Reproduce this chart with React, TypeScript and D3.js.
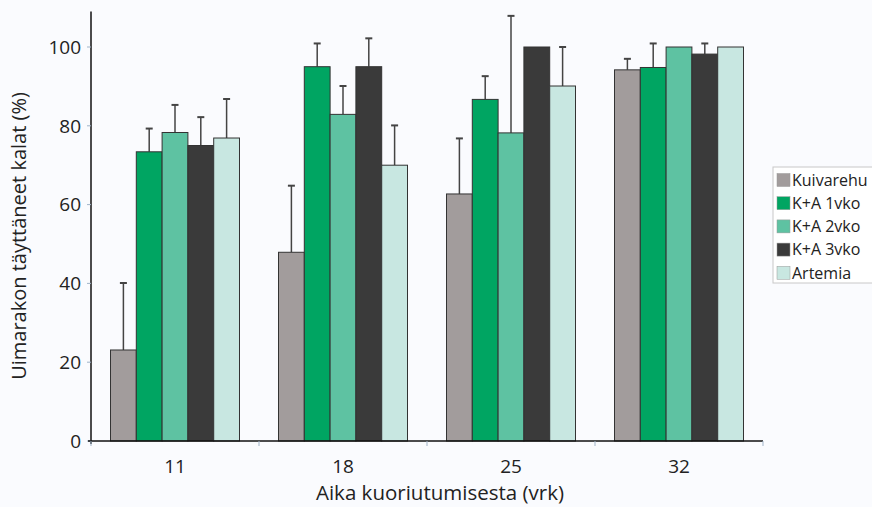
import React from "react";
import * as d3 from "d3";

const categories = ["11", "18", "25", "32"];
const series = ["Kuivarehu", "K+A 1vko", "K+A 2vko", "K+A 3vko", "Artemia"];
const colors = ["#a29c9c", "#00a562", "#5ec2a2", "#3a3a3a", "#c8e7e1"];
// values[series][category]
const values = [
  [23.1, 47.9, 62.7, 94.2],
  [73.4, 95.0, 86.7, 94.8],
  [78.3, 82.9, 78.2, 100],
  [75.0, 95.0, 100, 98.2],
  [76.9, 70.0, 90.1, 100],
];
// upper error bar ends (null = none)
const errTop = [
  [40.1, 64.8, 76.8, 97.0],
  [79.3, 100.9, 92.6, 100.9],
  [85.3, 90.1, 107.9, null],
  [82.2, 102.2, null, 100.9],
  [86.8, 80.1, 100, null],
];
const yTicks = [0, 20, 40, 60, 80, 100];

export default function App() {
  const W = 872, H = 507;
  const x0 = d3.scaleBand().domain(categories).range([91, 763]).paddingInner(0).paddingOuter(0);
  const x1 = d3.scaleBand().domain(series).range([19.5, 148.5]).padding(0);
  const y = d3.scaleLinear().domain([0, 100]).range([441, 47]);
  const font = "'Open Sans', 'Noto Sans', sans-serif";
  const bw = x1.bandwidth();
  const boundaries = [...categories.map((c) => x0(c)!), 763];

  return (
    <svg width={W} height={H} style={{ position: "absolute", left: 0, top: 0, background: "#fafbfe" }} fontFamily={font}>
      <rect x={0} y={0} width={W} height={H} fill="#fafbfe" />
      {/* bars */}
      {series.map((s, si) =>
        categories.map((c, ci) => {
          const bx = x0(c)! + x1(s)!;
          const v = values[si][ci];
          const e = errTop[si][ci];
          const cx = bx + bw / 2;
          return (
            <g key={s + c}>
              {e !== null && (
                <g stroke="#444" strokeWidth={1.5}>
                  <line x1={cx} x2={cx} y1={y(v)} y2={y(e)} />
                  <line x1={cx - 3.5} x2={cx + 3.5} y1={y(e)} y2={y(e)} strokeWidth={2} />
                </g>
              )}
              <rect x={bx} y={y(v)} width={bw} height={y(0) - y(v)} fill={colors[si]} stroke="#333" strokeWidth={1} />
            </g>
          );
        })
      )}
      {/* y axis */}
      <line x1={91} x2={91} y1={y(109)} y2={y(0) + 3} stroke="#111" strokeWidth={1.5} />
      {yTicks.map((t) => (
        <g key={t}>
          <line x1={87} x2={91} y1={y(t)} y2={y(t)} stroke="#9fb3c8" strokeWidth={1} />
          <text x={81} y={y(t)} dy="0.36em" textAnchor="end" fontSize={19} fill="#222">
            {t}
          </text>
        </g>
      ))}
      {/* x axis */}
      <line x1={88} x2={763} y1={y(0)} y2={y(0)} stroke="#111" strokeWidth={1.5} />
      {boundaries.map((b, i) => (
        <line key={i} x1={b} x2={b} y1={y(0)} y2={y(0) + 5} stroke="#9fb3c8" strokeWidth={1} />
      ))}
      {categories.map((c) => (
        <text key={c} x={x0(c)! + x0.bandwidth() / 2} y={473} textAnchor="middle" fontSize={19} fill="#222">
          {c}
        </text>
      ))}
      <text x={440} y={500} textAnchor="middle" fontSize={20.5} fill="#222">
        Aika kuoriutumisesta (vrk)
      </text>
      <text transform={`translate(26,236) rotate(-90)`} textAnchor="middle" fontSize={20} fill="#222">
        Uimarakon täyttäneet kalat (%)
      </text>
      {/* legend */}
      <rect x={773} y={167} width={110} height={116} fill="#ffffff" stroke="#c8c8c8" strokeWidth={1} />
      {series.map((s, i) => (
        <g key={s}>
          <rect x={777} y={173.5 + i * 23.2} width={13} height={13} fill={colors[i]} stroke="#999" strokeWidth={0.5} />
          <text x={792} y={180 + i * 23.2} dy="0.36em" fontSize={16} fill="#222">
            {s}
          </text>
        </g>
      ))}
    </svg>
  );
}
